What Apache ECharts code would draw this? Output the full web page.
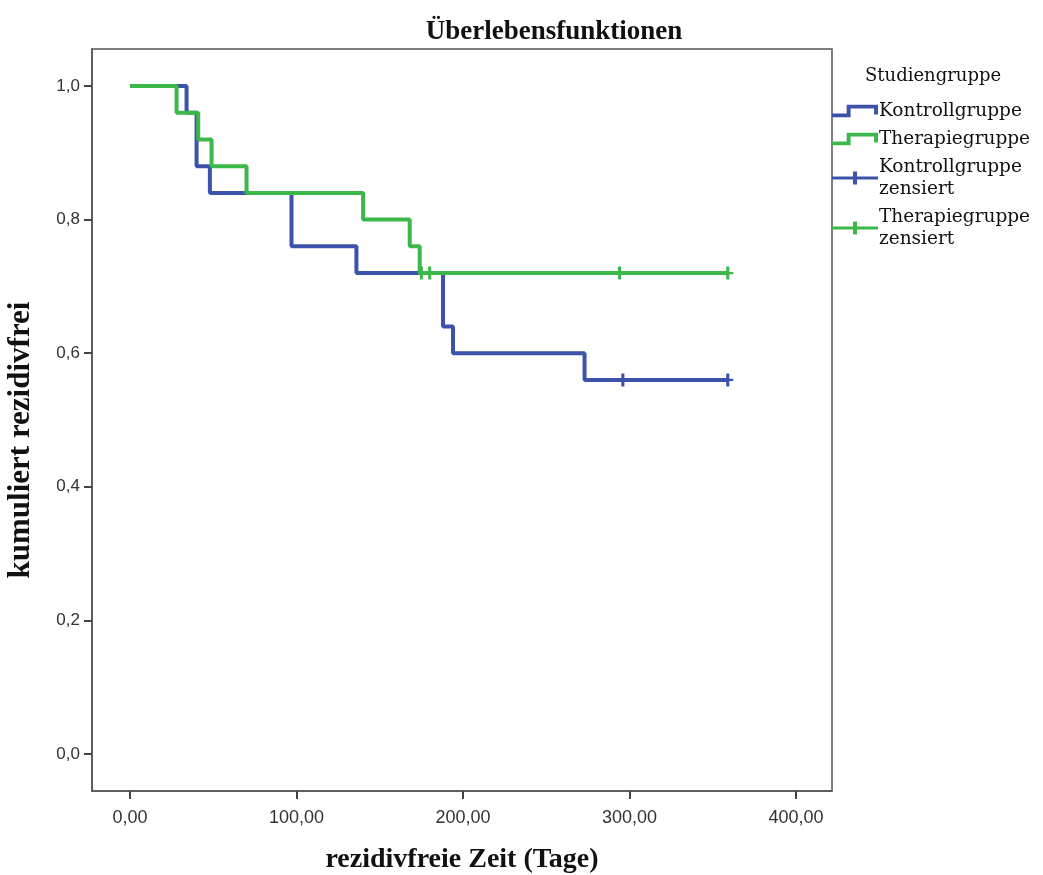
<!DOCTYPE html>
<html>
<head>
<meta charset="utf-8">
<title>Überlebensfunktionen</title>
<script src="https://cdn.jsdelivr.net/npm/echarts@6/dist/echarts.min.js"></script>
<style>
  html, body { margin: 0; padding: 0; background: #fff; }
  #chart { width: 1043px; height: 875px; }
</style>
</head>
<body>
<div id="chart"></div>
<script>
// Kaplan-Meier Stufen (Zeit in Tagen, kumuliert rezidivfrei)
const ctrlTime = [0, 34, 40, 48, 97, 136, 188, 194, 273, 359];
const ctrlSurv = [1.0, 0.96, 0.88, 0.84, 0.76, 0.72, 0.64, 0.60, 0.56, 0.56];
const ctrlCensTime = [296, 359];
const ctrlCensSurv = [0.56, 0.56];

const therTime = [0, 28, 41, 49, 70, 140, 168, 174, 359];
const therSurv = [1.0, 0.96, 0.92, 0.88, 0.84, 0.80, 0.76, 0.72, 0.72];
const therCensTime = [175, 180, 294, 359];
const therCensSurv = [0.72, 0.72, 0.72, 0.72];

const xTicks = [0, 100, 200, 300, 400];
const yTicks = [0, 0.2, 0.4, 0.6, 0.8, 1.0];

const BLUE = '#3d52aa';
const GREEN = '#3cb84a';

// Symbole
const stepIcon = 'path://M0,9h15v-9h32v10h-4v-6h-24v9h-19z';
const plusIcon = 'path://M0,5h46v3h-46zM21,0h4v13h-4z';
const censMark = 'path://M0,5h10v2h-10zM3.6,0h2.8v12h-2.8z';

function zip(a, b) {
  return a.map((v, i) => [v, b[i]]);
}

const chart = echarts.init(document.getElementById('chart'));

chart.setOption({
  animation: false,
  backgroundColor: '#fff',
  title: [
    {
      text: 'Überlebensfunktionen',
      left: 549,
      top: 14,
      textAlign: 'center',
      textStyle: { fontFamily: 'Liberation Serif', fontWeight: 'bold', fontSize: 27, color: '#111' }
    },
    {
      text: 'Studiengruppe',
      left: 860,
      top: 62,
      textStyle: { fontFamily: 'DejaVu Serif', fontWeight: 'normal', fontSize: 18, color: '#111' }
    }
  ],
  legend: {
    orient: 'vertical',
    left: 832,
    top: 100,
    padding: 0,
    itemGap: 6,
    itemWidth: 46,
    itemHeight: 13,
    textStyle: { fontFamily: 'DejaVu Serif', fontSize: 18.5, color: '#111', lineHeight: 22, padding: [0, 0, 0, -4] },
    data: [
      { name: 'Kontrollgruppe', icon: stepIcon },
      { name: 'Therapiegruppe', icon: stepIcon },
      { name: 'Kontrollgruppe\nzensiert', icon: plusIcon },
      { name: 'Therapiegruppe\nzensiert', icon: plusIcon }
    ]
  },
  grid: {
    left: 92,
    top: 49,
    width: 740,
    height: 742,
    show: true,
    borderColor: '#555',
    borderWidth: 1.5,
    containLabel: false,
    outerBoundsMode: 'none'
  },
  xAxis: {
    type: 'value',
    min: -22.8,
    max: 421.6,
    name: 'rezidivfreie Zeit (Tage)',
    nameLocation: 'middle',
    nameGap: 55,
    nameTextStyle: { fontFamily: 'Liberation Serif', fontWeight: 'bold', fontSize: 28, color: '#111' },
    axisLine: { show: true, onZero: false, lineStyle: { color: '#555', width: 1.5 } },
    splitLine: { show: false },
    axisTick: { show: true, length: 8, customValues: xTicks, lineStyle: { color: '#444', width: 2 } },
    axisLabel: {
      customValues: xTicks,
      margin: 18,
      fontFamily: 'Liberation Sans',
      fontSize: 18,
      color: '#333',
      formatter: v => v.toFixed(2).replace('.', ',')
    }
  },
  yAxis: {
    type: 'value',
    min: -0.0554,
    max: 1.0554,
    name: 'kumuliert rezidivfrei',
    nameLocation: 'middle',
    nameGap: 56,
    nameTextStyle: {
      fontFamily: 'Liberation Serif',
      fontWeight: 'bold',
      fontSize: 31,
      color: '#111',
      padding: [0, 40, 0, 0]
    },
    axisLine: { show: true, onZero: false, lineStyle: { color: '#555', width: 1.5 } },
    splitLine: { show: false },
    axisTick: { show: true, length: 8, customValues: yTicks, lineStyle: { color: '#444', width: 2 } },
    axisLabel: {
      customValues: yTicks,
      margin: 12,
      fontFamily: 'Liberation Sans',
      fontSize: 17,
      color: '#333',
      formatter: v => v.toFixed(1).replace('.', ',')
    }
  },
  series: [
    {
      name: 'Kontrollgruppe',
      type: 'line',
      step: 'end',
      showSymbol: false,
      color: BLUE,
      lineStyle: { width: 4, color: BLUE },
      data: zip(ctrlTime, ctrlSurv)
    },
    {
      name: 'Therapiegruppe',
      type: 'line',
      step: 'end',
      showSymbol: false,
      color: GREEN,
      lineStyle: { width: 4, color: GREEN },
      data: zip(therTime, therSurv)
    },
    {
      name: 'Kontrollgruppe\nzensiert',
      type: 'scatter',
      symbol: censMark,
      symbolSize: [11, 13],
      itemStyle: { color: BLUE, opacity: 1 },
      data: zip(ctrlCensTime, ctrlCensSurv)
    },
    {
      name: 'Therapiegruppe\nzensiert',
      type: 'scatter',
      symbol: censMark,
      symbolSize: [11, 13],
      itemStyle: { color: GREEN, opacity: 1 },
      data: zip(therCensTime, therCensSurv)
    }
  ]
});
</script>
</body>
</html>
